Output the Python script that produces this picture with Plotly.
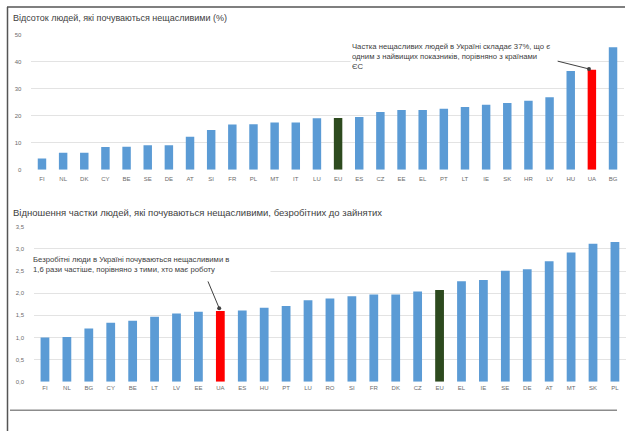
import plotly.graph_objects as go

W, H = 627, 434

# Share of people who feel unhappy (%)
unhappy_codes = ["FI", "NL", "DK", "CY", "BE", "SE", "DE", "AT", "SI", "FR", "PL", "MT", "IT", "LU",
                 "EU", "ES", "CZ", "EE", "EL", "PT", "LT", "IE", "SK", "HR", "LV", "HU", "UA", "BG"]
unhappy_pct = [4.1, 6.3, 6.3, 8.4, 8.5, 9.0, 9.0, 12.2, 14.7, 16.7, 16.8, 17.5, 17.5, 19.0,
               19.1, 19.5, 21.3, 22.1, 22.1, 22.5, 23.2, 24.0, 24.7, 25.5, 26.8, 36.5, 37.0, 45.3]
top_ticks = [0, 10, 20, 30, 40, 50]

# Ratio of unhappy shares: unemployed vs employed
ratio_codes = ["FI", "NL", "BG", "CY", "BE", "LT", "LV", "EE", "UA", "ES", "HU", "PT", "LU", "RO",
               "SI", "FR", "DK", "CZ", "EU", "EL", "IE", "SE", "DE", "AT", "MT", "SK", "PL"]
ratio_vals = [1.0, 1.01, 1.2, 1.33, 1.38, 1.47, 1.54, 1.58, 1.6, 1.61, 1.67, 1.71, 1.84, 1.88,
              1.93, 1.97, 1.97, 2.04, 2.07, 2.27, 2.30, 2.51, 2.54, 2.72, 2.92, 3.12, 3.16]
bottom_ticks = [0.0, 0.5, 1.0, 1.5, 2.0, 2.5, 3.0, 3.5]
bottom_tick_text = [f"{v:.1f}".replace(".", ",") for v in bottom_ticks]

BLUE, RED, GREEN = "#5B9BD5", "#FF0000", "#2D4A1E"
UKRAINE, EUROPE = "UA", "EU"


def bar_colors(codes):
    return [RED if c == UKRAINE else GREEN if c == EUROPE else BLUE for c in codes]


def px(x):
    return x / W


def py(y):
    return 1 - y / H


FONT = "Liberation Sans, Arial, sans-serif"
TICK = dict(family=FONT, size=6, color="#6B6B6B")
NOTE = dict(family=FONT, size=7.7, color="#404040")

fig = go.Figure()
fig.add_trace(go.Bar(x=unhappy_codes, y=unhappy_pct, marker=dict(color=bar_colors(unhappy_codes), line_width=0),
                     xaxis="x", yaxis="y", showlegend=False))
fig.add_trace(go.Bar(x=ratio_codes, y=ratio_vals, marker=dict(color=bar_colors(ratio_codes), line_width=0),
                     xaxis="x2", yaxis="y2", showlegend=False))

ua_top = unhappy_pct[unhappy_codes.index(UKRAINE)]
ua_ratio = ratio_vals[ratio_codes.index(UKRAINE)]

fig.update_layout(
    width=W, height=H, margin=dict(l=0, r=0, t=0, b=0),
    paper_bgcolor="white", plot_bgcolor="white", bargap=0.6,
    font=dict(family=FONT),
    xaxis=dict(domain=[px(31.4), px(623.6)], anchor="y", showline=False, showgrid=False,
               ticks="", tickfont=TICK, ticklabelstandoff=4, fixedrange=True),
    yaxis=dict(domain=[py(169), py(32)], anchor="x", range=[0, 50], tickvals=top_ticks,
               showgrid=True, gridcolor="#E3E3E3", gridwidth=1, zeroline=False, showline=False,
               ticks="", tickfont=TICK, ticklabelstandoff=9),
    xaxis2=dict(domain=[px(34.0), px(625.9)], anchor="y2", showline=False, showgrid=False,
                ticks="", tickfont=TICK, ticklabelstandoff=1),
    yaxis2=dict(domain=[py(384), py(227)], anchor="x2", range=[0, 3.5], tickvals=bottom_ticks,
                ticktext=bottom_tick_text, showgrid=True, gridcolor="#E3E3E3", gridwidth=1,
                zeroline=False, showline=False, ticks="", tickfont=TICK, ticklabelstandoff=9),
)

anns = [
    dict(text="Відсоток людей, які почуваються нещасливими (%)", xref="paper", yref="paper",
         x=px(11), y=py(15), xanchor="left", yanchor="middle", showarrow=False,
         font=dict(family=FONT, size=9, color="#404040")),
    dict(text="Відношення частки людей, які почуваються нещасливими, безробітних до зайнятих",
         xref="paper", yref="paper", x=px(11), y=py(212), xanchor="left", yanchor="middle",
         showarrow=False, font=dict(family=FONT, size=9.5, color="#404040")),
    # callout on the Ukraine bar, top chart
    dict(x=UKRAINE, y=ua_top, xref="x", yref="y", ax=-36, ay=-9, showarrow=True,
         arrowhead=6, arrowsize=1, arrowwidth=1, arrowcolor="#404040", standoff=3, text=""),
    dict(text=f"Частка нещасливих людей в Україні складає {ua_top:.0f}%, що є<br>"
              "одним з найвищих показників, порівняно з країнами<br>ЄС",
         xref="paper", yref="paper", x=px(350), y=py(38), xanchor="left", yanchor="top",
         align="left", showarrow=False, bgcolor="white", width=204, font=NOTE),
    # callout on the Ukraine bar, bottom chart
    dict(x=UKRAINE, y=ua_ratio, xref="x2", yref="y2", ax=-13, ay=-31, showarrow=True,
         arrowhead=6, arrowsize=1, arrowwidth=1, arrowcolor="#404040", standoff=3, text=""),
    dict(text="Безробітні люди в Україні почуваються нещасливими в<br>"
              f"{ua_ratio:.1f}".replace(".", ",") + " рази частіше, порівняно з тими, хто має роботу",
         xref="paper", yref="paper", x=px(31), y=py(254), xanchor="left", yanchor="top",
         align="left", showarrow=False, bgcolor="white", width=236, font=NOTE),
]
fig.update_layout(annotations=anns)

fig.update_layout(shapes=[
    dict(type="line", xref="paper", yref="paper", x0=px(7.5), x1=px(7.5), y0=py(4), y1=0,
         line=dict(color="#555555", width=1.5)),
    dict(type="line", xref="paper", yref="paper", x0=px(7), x1=px(625), y0=py(4), y1=py(4),
         line=dict(color="#555555", width=1.5)),
    dict(type="line", xref="paper", yref="paper", x0=px(10), x1=px(617), y0=py(413), y1=py(413),
         line=dict(color="#8C8C8C", width=1.5)),
])

fig.write_html("out.html")
